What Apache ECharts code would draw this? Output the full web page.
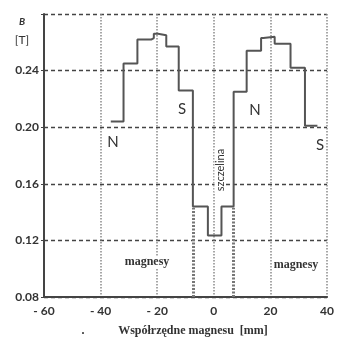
<!DOCTYPE html>
<html>
<head>
<meta charset="utf-8">
<script src="https://cdn.jsdelivr.net/npm/echarts@6/dist/echarts.min.js"></script>
<style>
  html, body { margin: 0; padding: 0; background: #fff; }
  #chart { width: 337px; height: 341px; }
</style>
</head>
<body>
<div id="chart"></div>
<script>
// krawedzie stopni [mm] i indukcja B [T] pomiedzy kolejnymi krawedziami
var edges = [-36.4, -31.9, -27.0, -22.0, -21.2, -19.7, -16.8, -12.4, -7.4, -2.1, 2.7, 7.0, 11.6, 16.7, 17.5, 21.5, 27.1, 32.2, 36.6];
var levels = [0.204, 0.245, 0.262, 0.263, 0.266, 0.265, 0.257, 0.226, 0.144, 0.1235, 0.144, 0.225, 0.254, 0.263, 0.264, 0.259, 0.242, 0.201];
// kreskowane krawedzie magnesow przy szczelinie
var hatchX = [-7.4, 7.0];
var hatchTop = 0.143;
var xRange = [-60, 40];
var yRange = [0.08, 0.28];

var ink = '#333';
var chart = echarts.init(document.getElementById('chart'));

var stepData = [];
for (var i = 0; i < levels.length; i++) {
  stepData.push([edges[i], levels[i]]);
  stepData.push([edges[i + 1], levels[i]]);
}

var hatchLines = hatchX.map(function (x) {
  return [{ coord: [x, yRange[0]] }, { coord: [x, hatchTop] }];
});

function txt(text, x, y, font, rot, bg) {
  return {
    type: 'text', x: x, y: y, rotation: rot || 0, silent: true, z: 100,
    style: {
      text: text, font: font, fill: ink, align: 'center', verticalAlign: 'middle',
      backgroundColor: bg ? '#fff' : null, padding: bg ? [0, 1] : 0
    }
  };
}

var option = {
  animation: false,
  backgroundColor: '#fff',
  grid: { left: 44, right: 1, top: 14, bottom: 44 },
  xAxis: {
    type: 'value', min: xRange[0], max: xRange[1], interval: 20,
    axisLine: { show: true, onZero: false, lineStyle: { color: '#444', width: 2 } },
    axisTick: { show: false },
    axisLabel: {
      color: ink, fontSize: 12, fontFamily: 'Lato', fontWeight: 'bold', margin: 8,
      formatter: function (v) { return v < 0 ? '- ' + (-v) : String(v); }
    },
    splitLine: { show: true, lineStyle: { color: '#8a8a8a', type: [1.5, 1.5], width: 1.5 } }
  },
  yAxis: {
    type: 'value', min: yRange[0], max: yRange[1], interval: 0.04,
    axisLine: { show: true, onZero: false, lineStyle: { color: '#444', width: 2 } },
    axisTick: { show: true, length: 3, lineStyle: { color: '#444' } },
    axisLabel: {
      color: ink, fontSize: 12, fontFamily: 'Lato', fontWeight: 'bold', margin: 5,
      formatter: function (v) { return Math.abs(v - 0.28) < 1e-6 ? '' : v.toFixed(2); }
    },
    splitLine: { show: true, lineStyle: { color: '#444', type: [4, 3], width: 1.3 } }
  },
  series: [{
    type: 'line',
    data: stepData,
    showSymbol: false,
    lineStyle: { color: '#555', width: 2 },
    markLine: {
      silent: true, symbol: 'none', label: { show: false },
      lineStyle: { color: '#777', type: [2, 1.5], width: 3 },
      data: hatchLines
    }
  }],
  graphic: [
    txt('B', 22, 22, 'italic bold 10px Lato'),
    txt('[T]', 22, 40, '12px Lato'),
    txt('N', 113, 142, '15px Lato'),
    txt('S', 182, 109, '15px Lato'),
    txt('N', 255, 110, '15px Lato'),
    txt('S', 320, 145, '15px Lato'),
    txt('szczelina', 220, 170, '11px Lato', Math.PI / 2, true),
    txt('magnesy', 147, 262, 'bold 12px "Liberation Serif"', 0, true),
    txt('magnesy', 296, 265, 'bold 12px "Liberation Serif"', 0, true),
    txt('Współrzędne magnesu  [mm]', 193, 331, 'bold 12px "Liberation Serif"'),
    txt('.', 83, 331, 'bold 12px "Liberation Serif"')
  ]
};
chart.setOption(option);
</script>
</body>
</html>
